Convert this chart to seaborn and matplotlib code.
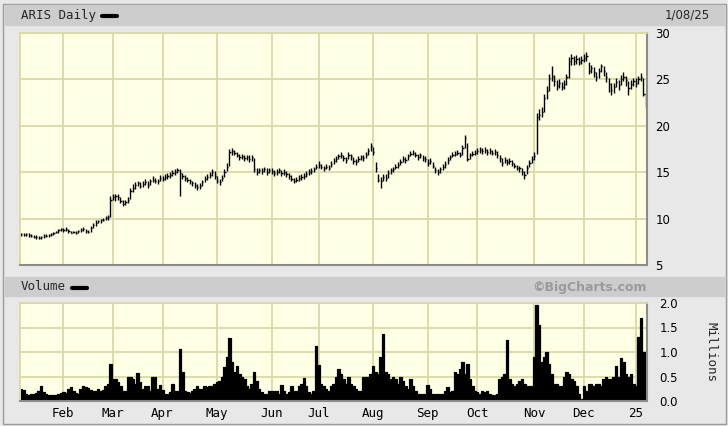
import matplotlib
matplotlib.use('Agg')
import matplotlib.pyplot as plt
from matplotlib.patches import Rectangle
from matplotlib.lines import Line2D
import numpy as np
import pandas as pd
import seaborn as sns

# trading days shown on the chart (1/08/24 .. 1/08/25)
holidays = ['2024-01-15', '2024-02-19', '2024-03-29', '2024-05-27', '2024-06-19',
            '2024-07-04', '2024-09-02', '2024-11-28', '2024-12-25', '2025-01-01']
dates = pd.bdate_range('2024-01-08', '2025-01-08')
dates = dates[~dates.isin(pd.to_datetime(holidays))]

close = [
    8.3, 8.2, 8.3, 8.2, 8.1, 8.0, 8.0, 7.9, 8.0, 8.1,
    8.1, 8.2, 8.3, 8.4, 8.6, 8.8, 8.9, 8.8, 8.9, 8.7,
    8.5, 8.6, 8.5, 8.7, 8.8, 8.9, 8.7, 8.6, 9.0, 9.3,
    9.5, 9.7, 9.8, 9.9, 10.1, 10.2, 12.0, 12.3, 12.4, 12.3,
    11.9, 11.6, 11.8, 12.0, 13.0, 13.3, 13.6, 13.8, 13.5, 13.7,
    13.9, 13.6, 14.0, 14.2, 14.1, 14.0, 14.4, 14.3, 14.5, 14.6,
    14.7, 14.9, 15.0, 15.2, 14.9, 14.6, 14.4, 14.2, 14.0, 13.8,
    13.6, 13.4, 13.5, 13.9, 14.3, 14.5, 14.7, 15.0, 14.6, 14.0,
    13.9, 14.4, 15.0, 15.6, 17.2, 17.3, 17.1, 16.9, 16.6, 16.7,
    16.5, 16.6, 16.4, 16.6, 15.3, 15.0, 15.2, 15.1, 15.3, 15.0,
    15.2, 15.1, 14.9, 15.0, 15.2, 14.9, 15.0, 14.8, 14.6, 14.3,
    14.1, 14.2, 14.4, 14.5, 14.6, 14.8, 15.0, 15.1, 15.3, 15.6,
    15.8, 15.6, 15.4, 15.6, 15.5, 15.9, 16.2, 16.4, 16.7, 16.9,
    16.5, 16.3, 16.9, 16.7, 16.2, 16.1, 16.4, 16.6, 16.5, 16.9,
    17.3, 17.8, 17.2, 15.4, 14.2, 14.0, 14.5, 14.4, 14.9, 15.2,
    15.3, 15.6, 15.8, 16.1, 16.4, 16.3, 16.7, 17.0, 17.1, 16.9,
    16.6, 16.8, 16.5, 16.4, 16.0, 16.2, 15.7, 15.2, 15.0, 15.3,
    15.6, 15.9, 16.3, 16.6, 16.9, 17.0, 17.1, 16.9, 17.6, 18.7,
    16.4, 16.8, 17.0, 17.1, 17.3, 17.4, 17.3, 17.4, 17.2, 17.3,
    17.1, 17.2, 16.9, 16.5, 16.0, 16.3, 16.1, 16.2, 16.0, 15.7,
    15.5, 15.4, 15.0, 14.7, 15.5, 16.0, 16.4, 16.7, 21.0, 21.2,
    21.5, 23.0, 23.8, 25.2, 25.4, 24.8, 24.3, 24.6, 24.2, 24.5,
    25.3, 27.0, 27.3, 27.0, 27.2, 26.9, 27.1, 27.3, 27.5, 25.9,
    26.2, 25.8, 25.3, 25.9, 26.4, 25.9, 25.3, 24.5, 23.9, 24.2,
    24.7, 24.4, 25.0, 25.3, 24.9, 24.1, 24.5, 24.8, 24.6, 25.0,
    25.3, 23.4, 22.3,
]

high = [
    8.5, 8.4, 8.4, 8.4, 8.3, 8.2, 8.2, 8.1, 8.1, 8.3,
    8.3, 8.3, 8.4, 8.6, 8.7, 8.9, 9.0, 9.0, 9.1, 8.9,
    8.7, 8.7, 8.7, 8.8, 9.0, 9.1, 8.9, 8.8, 9.2, 9.5,
    9.8, 9.9, 10.0, 10.1, 10.3, 10.4, 12.4, 12.6, 12.7, 12.6,
    12.3, 12.0, 12.0, 12.3, 13.3, 13.7, 13.9, 14.1, 13.9, 14.0,
    14.3, 14.0, 14.3, 14.6, 14.4, 14.3, 14.7, 14.6, 14.8, 14.9,
    15.0, 15.2, 15.3, 15.4, 15.3, 14.9, 14.7, 14.5, 14.3, 14.1,
    13.9, 13.7, 13.8, 14.2, 14.6, 14.8, 15.0, 15.3, 15.1, 14.6,
    14.3, 14.7, 15.3, 16.0, 17.5, 17.6, 17.4, 17.2, 17.0, 17.0,
    16.9, 16.9, 16.8, 16.9, 16.5, 15.4, 15.5, 15.4, 15.6, 15.4,
    15.5, 15.4, 15.2, 15.3, 15.5, 15.2, 15.3, 15.1, 14.9, 14.7,
    14.4, 14.5, 14.7, 14.8, 14.9, 15.1, 15.3, 15.4, 15.6, 15.9,
    16.2, 15.9, 15.7, 15.9, 15.8, 16.2, 16.5, 16.7, 17.0, 17.2,
    16.9, 16.6, 17.2, 17.0, 16.6, 16.4, 16.7, 16.9, 16.8, 17.2,
    17.6, 18.1, 17.7, 16.1, 14.8, 14.5, 14.8, 14.8, 15.2, 15.5,
    15.6, 15.9, 16.1, 16.4, 16.7, 16.6, 17.0, 17.3, 17.4, 17.2,
    17.0, 17.1, 16.9, 16.7, 16.4, 16.5, 16.1, 15.6, 15.3, 15.6,
    15.9, 16.2, 16.6, 16.9, 17.2, 17.3, 17.4, 17.2, 17.9, 19.0,
    18.2, 17.1, 17.3, 17.4, 17.6, 17.7, 17.6, 17.7, 17.5, 17.6,
    17.4, 17.5, 17.3, 16.9, 16.5, 16.6, 16.4, 16.5, 16.3, 16.0,
    15.8, 15.7, 15.4, 15.1, 15.8, 16.3, 16.7, 17.2, 21.4, 21.8,
    22.0, 23.4, 24.3, 25.6, 26.4, 25.5, 24.9, 25.0, 24.7, 24.9,
    25.6, 27.4, 27.7, 27.5, 27.6, 27.4, 27.5, 27.7, 27.9, 26.9,
    26.6, 26.3, 25.8, 26.2, 26.7, 26.4, 25.8, 25.2, 24.6, 24.6,
    25.1, 24.9, 25.5, 25.8, 25.4, 24.8, 24.9, 25.2, 25.1, 25.4,
    25.7, 25.1, 23.5,
]

low = [
    8.1, 8.1, 8.1, 8.0, 8.0, 7.9, 7.8, 7.8, 7.8, 7.9,
    8.0, 8.0, 8.1, 8.2, 8.4, 8.5, 8.7, 8.6, 8.7, 8.5,
    8.4, 8.4, 8.3, 8.5, 8.6, 8.7, 8.5, 8.5, 8.6, 9.0,
    9.2, 9.5, 9.5, 9.7, 9.8, 9.9, 10.2, 12.0, 11.9, 12.0,
    11.7, 11.4, 11.5, 11.7, 12.1, 12.9, 13.2, 13.5, 13.3, 13.4,
    13.6, 13.3, 13.6, 13.9, 13.8, 13.7, 14.0, 14.0, 14.2, 14.3,
    14.4, 14.6, 14.7, 14.9, 12.4, 14.3, 14.1, 13.9, 13.7, 13.5,
    13.3, 13.1, 13.2, 13.5, 13.9, 14.2, 14.4, 14.6, 14.3, 13.8,
    13.6, 14.0, 14.5, 15.1, 15.7, 16.9, 16.8, 16.6, 16.3, 16.4,
    16.2, 16.3, 16.1, 16.2, 15.0, 14.7, 14.9, 14.8, 15.0, 14.7,
    14.9, 14.8, 14.6, 14.7, 14.9, 14.6, 14.7, 14.5, 14.3, 14.0,
    13.8, 13.9, 14.1, 14.2, 14.3, 14.5, 14.7, 14.8, 15.0, 15.3,
    15.5, 15.3, 15.1, 15.3, 15.2, 15.6, 15.9, 16.1, 16.4, 16.5,
    16.2, 16.0, 16.4, 16.3, 15.9, 15.8, 16.1, 16.3, 16.2, 16.5,
    16.9, 17.3, 16.9, 15.0, 13.9, 13.3, 14.0, 14.1, 14.4, 14.8,
    15.0, 15.3, 15.5, 15.8, 16.1, 16.0, 16.3, 16.7, 16.8, 16.6,
    16.3, 16.5, 16.2, 16.1, 15.7, 15.9, 15.4, 14.9, 14.7, 14.9,
    15.2, 15.5, 15.9, 16.3, 16.6, 16.7, 16.8, 16.6, 16.9, 17.6,
    16.2, 16.4, 16.7, 16.8, 17.0, 17.1, 17.0, 17.1, 16.9, 17.0,
    16.8, 16.9, 16.5, 16.1, 15.7, 16.0, 15.8, 15.9, 15.7, 15.4,
    15.2, 15.0, 14.7, 14.3, 14.8, 15.6, 16.0, 16.3, 17.0, 20.6,
    20.9, 21.5, 22.9, 23.8, 24.8, 24.3, 23.9, 24.1, 23.9, 24.0,
    24.4, 25.2, 26.6, 26.6, 26.7, 26.5, 26.7, 26.9, 27.0, 25.6,
    25.7, 25.3, 24.8, 25.2, 25.8, 25.4, 24.7, 23.6, 23.3, 23.5,
    24.2, 23.9, 24.4, 24.8, 24.3, 23.3, 24.0, 24.3, 24.2, 24.5,
    24.8, 23.2, 22.0,
]

# volume in millions of shares
volume = [
    0.25, 0.22, 0.14, 0.13, 0.14, 0.15, 0.17, 0.20, 0.30, 0.18,
    0.15, 0.12, 0.12, 0.13, 0.13, 0.15, 0.16, 0.18, 0.17, 0.25,
    0.28, 0.20, 0.16, 0.15, 0.25, 0.30, 0.28, 0.27, 0.22, 0.20,
    0.20, 0.25, 0.20, 0.22, 0.30, 0.35, 0.75, 0.45, 0.45, 0.38,
    0.31, 0.20, 0.20, 0.50, 0.50, 0.45, 0.35, 0.58, 0.38, 0.25,
    0.30, 0.30, 0.20, 0.50, 0.48, 0.25, 0.33, 0.22, 0.15, 0.15,
    0.18, 0.35, 0.20, 0.20, 1.07, 0.60, 0.20, 0.18, 0.16, 0.20,
    0.25, 0.31, 0.25, 0.25, 0.30, 0.28, 0.30, 0.30, 0.35, 0.38,
    0.40, 0.50, 0.70, 0.90, 1.29, 0.80, 0.60, 0.72, 0.55, 0.50,
    0.45, 0.30, 0.25, 0.35, 0.60, 0.40, 0.25, 0.18, 0.15, 0.15,
    0.20, 0.20, 0.20, 0.20, 0.15, 0.32, 0.20, 0.15, 0.18, 0.30,
    0.20, 0.20, 0.30, 0.35, 0.47, 0.30, 0.18, 0.15, 0.20, 1.13,
    0.74, 0.34, 0.30, 0.25, 0.20, 0.30, 0.35, 0.50, 0.65, 0.55,
    0.45, 0.35, 0.50, 0.35, 0.30, 0.25, 0.20, 0.20, 0.50, 0.50,
    0.50, 0.55, 0.72, 0.60, 0.55, 0.90, 1.37, 0.60, 0.55, 0.45,
    0.50, 0.45, 0.35, 0.50, 0.40, 0.30, 0.25, 0.45, 0.30, 0.20,
    0.15, 0.15, 0.15, 0.15, 0.32, 0.25, 0.15, 0.15, 0.15, 0.15,
    0.15, 0.20, 0.28, 0.18, 0.20, 0.60, 0.55, 0.65, 0.80, 0.55,
    0.75, 0.45, 0.30, 0.20, 0.18, 0.15, 0.20, 0.18, 0.20, 0.15,
    0.12, 0.12, 0.15, 0.45, 0.50, 0.55, 1.25, 0.45, 0.35, 0.30,
    0.35, 0.40, 0.45, 0.35, 0.30, 0.30, 0.30, 0.90, 1.95, 1.55,
    0.80, 0.90, 1.00, 0.75, 0.55, 0.35, 0.35, 0.30, 0.30, 0.50,
    0.60, 0.55, 0.45, 0.40, 0.30, 0.15, 0.05, 0.30, 0.20, 0.35,
    0.35, 0.30, 0.35, 0.35, 0.30, 0.45, 0.50, 0.45, 0.45, 0.50,
    0.72, 0.50, 0.88, 0.80, 0.55, 0.50, 0.55, 0.35, 0.30, 1.30,
    1.70, 1.00, 0.50,
]

month_labels = ['Feb', 'Mar', 'Apr', 'May', 'Jun', 'Jul', 'Aug',
                'Sep', 'Oct', 'Nov', 'Dec', '25']
price_ticks = [5, 10, 15, 20, 25, 30]
vol_ticks = [0.0, 0.5, 1.0, 1.5, 2.0]

df = pd.DataFrame({'date': dates, 'close': close, 'high': high,
                   'low': low, 'volume': volume})
df['i'] = np.arange(len(df))
# gridlines sit on the first trading day of each month
firsts = df.groupby([df.date.dt.year, df.date.dt.month])['i'].first().values[1:]

W, H = 728, 426
def fx(px):
    return px / W
def fy(py):
    return 1 - py / H

sns.set_style('white')
plt.rcParams['font.family'] = ['DejaVu Sans']

bg = '#e8e8e8'
panel = '#ffffe6'
grid = '#d9d9a6'
bar = '#cdcdcd'
mono = 'DejaVu Sans Mono'

fig = plt.figure(figsize=(W / 100, H / 100), dpi=100, facecolor=bg)

# frame and title bars
fig.patches.append(Rectangle((fx(3), fy(424)), fx(723), 420 / H, transform=fig.transFigure,
                             fill=False, edgecolor='#9a9a9a', lw=1, zorder=0))
for y0, y1 in [(5, 25), (277, 296)]:
    fig.patches.append(Rectangle((fx(5), fy(y1)), fx(719), (y1 - y0) / H,
                                 transform=fig.transFigure, color=bar, zorder=0))

fig.text(fx(21), fy(15.5), 'ARIS Daily', family=mono, size=9, va='center', ha='left')
fig.add_artist(Line2D([fx(102), fx(117)], [fy(16), fy(16)], color='black', lw=3))
fig.text(fx(710), fy(15.5), '1/08/25', size=8.5, va='center', ha='right')
fig.text(fx(21), fy(287), 'Volume', family=mono, size=9, va='center', ha='left')
fig.add_artist(Line2D([fx(72), fx(87)], [fy(287.5), fy(287.5)], color='black', lw=3))
fig.text(fx(590), fy(287), '\u00a9BigCharts.com', size=9, weight='bold',
         color='#9a9a9a', va='center', ha='center')

ax1 = fig.add_axes([fx(20), fy(265), 627 / W, 232 / H])
ax2 = fig.add_axes([fx(20), fy(401), 627 / W, 98 / H])

for ax in (ax1, ax2):
    ax.set_facecolor(panel)
    ax.set_xlim(-0.5, len(df) - 0.5)
    ax.set_xticks(firsts)
    ax.grid(True, color=grid, lw=1.3)
    ax.set_axisbelow(True)
    ax.yaxis.tick_right()
    ax.tick_params(length=0, labelsize=8.5, colors='black')
    for s in ('top', 'left'):
        ax.spines[s].set_color(grid)
        ax.spines[s].set_linewidth(1.3)
    for s in ('bottom', 'right'):
        ax.spines[s].set_color('#8c8c8c')
        ax.spines[s].set_linewidth(1.5)

# price bars: high-low line with close tick
ax1.vlines(df['i'], df['low'], df['high'], color='black', lw=1)
ax1.hlines(df['close'], df['i'], df['i'] + 0.5, color='black', lw=1)
ax1.set_ylim(5, 30)
ax1.set_yticks(price_ticks)
ax1.set_yticklabels([str(t) for t in price_ticks])
ax1.tick_params(axis='y', pad=6)
ax1.set_xticklabels([])

# volume area
ax2.fill_between(df['i'], df['volume'], step='mid', facecolor='black',
                 edgecolor='black', lw=0.8, antialiased=False)
sns.lineplot(x=df['i'], y=df['volume'], ax=ax2, color='black', lw=0.8,
             drawstyle='steps-mid', legend=False)
ax2.set_ylim(0, 2.0)
ax2.set_yticks(vol_ticks)
ax2.set_yticklabels([f'{t:.1f}' for t in vol_ticks])
ax2.tick_params(axis='y', pad=9)
ax2.set_xticklabels(month_labels, family=mono, fontsize=9)
ax2.tick_params(axis='x', pad=4)
ax2.set_xlabel('')
ax2.set_ylabel('')
fig.text(fx(711), fy(352), 'Millions', family=mono, size=9, rotation=270,
         va='center', ha='center')

fig.savefig('out.png', dpi=100, facecolor=bg)
